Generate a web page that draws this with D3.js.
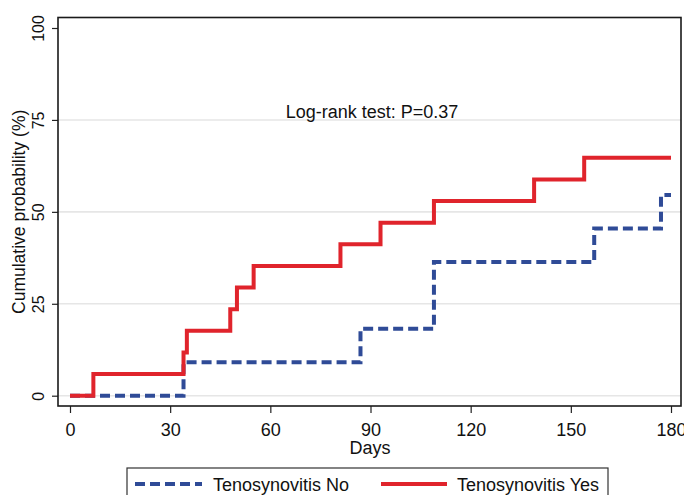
<!DOCTYPE html>
<html><head><meta charset="utf-8">
<script src="https://cdn.jsdelivr.net/npm/d3@7"></script>
<style>body{margin:0;background:#fff;} text{font-family:"Liberation Sans",Arial,sans-serif;fill:#111;}</style>
</head><body>
<svg id="chart" width="684" height="495"></svg>
<script>
// Data
const yesDays = [0, 7, 34, 35, 48, 50, 55, 81, 93, 109, 139, 154, 180];
const yesProb = [0, 5.88, 11.76, 17.65, 23.53, 29.41, 35.29, 41.18, 47.06, 52.94, 58.82, 64.71, 64.71];
const noDays = [0, 34, 87, 109, 157, 177, 180];
const noProb = [0, 9.09, 18.18, 36.36, 45.45, 54.55, 54.55];
const xTicks = [0, 30, 60, 90, 120, 150, 180];
const yTicks = [0, 25, 50, 75, 100];
const gridTicks = [0, 25, 50, 75];
const seriesNames = ["Tenosynovitis No", "Tenosynovitis Yes"];
const colors = {no: "#2f4b97", yes: "#e0242c"};

const svg = d3.select("#chart");
const frame = {left: 58, right: 681, top: 17.5, bottom: 406};
const x = d3.scaleLinear().domain([0, 180]).range([70, 671]);
const y = d3.scaleLinear().domain([0, 100]).range([395.7, 28]);

// gridlines
svg.append("g").selectAll("line").data(gridTicks).join("line")
  .attr("x1", frame.left).attr("x2", frame.right)
  .attr("y1", d => y(d)).attr("y2", d => y(d))
  .attr("stroke", "#e6e6e6").attr("stroke-width", 1.6);

// axes
const yAxis = d3.axisLeft(y).tickValues(yTicks).tickSize(6).tickFormat(d3.format("d"));
const gy = svg.append("g").attr("transform", `translate(${frame.left},0)`).call(yAxis);
gy.select(".domain").remove();
gy.selectAll(".tick line").attr("stroke", "#222").attr("stroke-width", 1.2);
gy.selectAll(".tick text").attr("x", 0).attr("dy", 0)
  .attr("transform", "translate(-14.5,0) rotate(-90)")
  .attr("text-anchor", "middle").style("font-size", "16px")
  .style("font-family", '"Liberation Sans",Arial,sans-serif').attr("fill", "#111");

const xAxis = d3.axisBottom(x).tickValues(xTicks).tickSize(7).tickFormat(d3.format("d"));
const gx = svg.append("g").attr("transform", `translate(0,${frame.bottom})`).call(xAxis);
gx.select(".domain").remove();
gx.selectAll(".tick line").attr("stroke", "#222").attr("stroke-width", 1.2);
gx.selectAll(".tick text").attr("y", 30).attr("dy", 0)
  .style("font-size", "18px").style("font-family", '"Liberation Sans",Arial,sans-serif').attr("fill", "#111");

// frame
svg.append("rect").attr("x", frame.left).attr("y", frame.top)
  .attr("width", frame.right - frame.left).attr("height", frame.bottom - frame.top)
  .attr("fill", "none").attr("stroke", "#1a1a1a").attr("stroke-width", 1.6);

// lines
const line = d3.line().x(d => x(d[0])).y(d => y(d[1])).curve(d3.curveStepAfter);
const noPts = noDays.map((d, i) => [d, noProb[i]]);
const yesPts = yesDays.map((d, i) => [d, yesProb[i]]);
svg.append("path").datum(noPts).attr("d", line).attr("fill", "none")
  .attr("stroke", colors.no).attr("stroke-width", 4).attr("stroke-dasharray", "10,5");
svg.append("path").datum(yesPts).attr("d", line).attr("fill", "none")
  .attr("stroke", colors.yes).attr("stroke-width", 4);

// annotation
svg.append("text").attr("x", 372).attr("y", 118).attr("text-anchor", "middle")
  .style("font-size", "18px").text("Log-rank test: P=0.37");

// axis titles
svg.append("text").attr("x", 370).attr("y", 454).attr("text-anchor", "middle")
  .style("font-size", "18px").text("Days");
svg.append("text").attr("transform", `translate(25,${(y(0) + y(100)) / 2}) rotate(-90)`)
  .attr("text-anchor", "middle").style("font-size", "17.5px").text("Cumulative probability (%)");

// legend
svg.append("rect").attr("x", 127).attr("y", 468).attr("width", 481).attr("height", 40)
  .attr("fill", "#fff").attr("stroke", "#333").attr("stroke-width", 1.2);
svg.append("line").attr("x1", 135).attr("x2", 202).attr("y1", 484).attr("y2", 484)
  .attr("stroke", colors.no).attr("stroke-width", 4).attr("stroke-dasharray", "10,5");
svg.append("text").attr("x", 213).attr("y", 491).style("font-size", "18px").text(seriesNames[0]);
svg.append("line").attr("x1", 381).attr("x2", 447).attr("y1", 484).attr("y2", 484)
  .attr("stroke", colors.yes).attr("stroke-width", 4);
svg.append("text").attr("x", 457).attr("y", 491).style("font-size", "18px").text(seriesNames[1]);
</script>
</body></html>
